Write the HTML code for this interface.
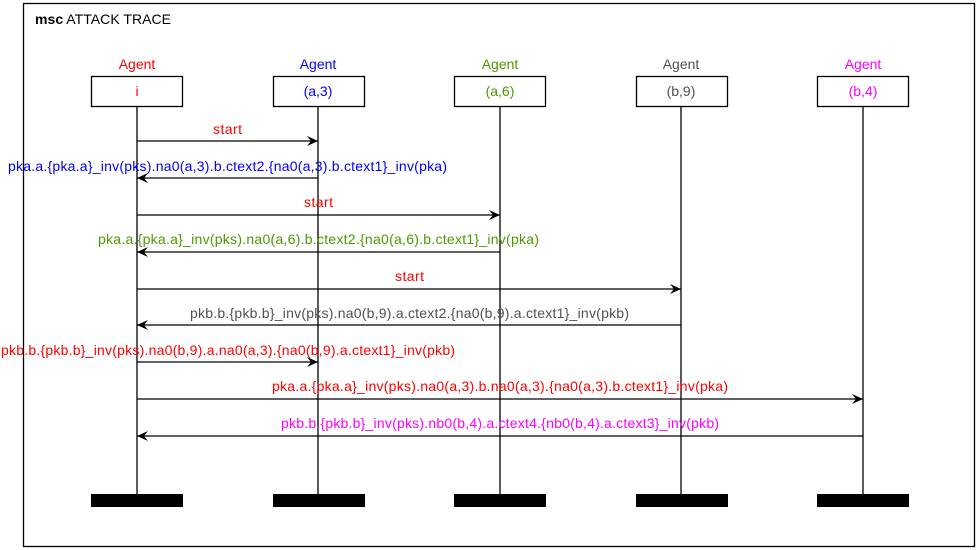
<!DOCTYPE html>
<html><head><style>body{margin:0;background:#fff}svg{display:block}text{font-family:"Liberation Sans",sans-serif;font-size:14px}</style></head><body>
<svg width="979" height="550" viewBox="0 0 979 550" xmlns="http://www.w3.org/2000/svg">
<defs><marker id="a" markerWidth="12" markerHeight="10" refX="11" refY="5" orient="auto" markerUnits="userSpaceOnUse"><path d="M0,0 L11,5 L0,10 L4,5 Z" fill="#000"/></marker></defs>
<rect x="23.5" y="3.5" width="951" height="543" fill="none" stroke="#000" stroke-width="1.3"/>
<text x="35" y="24" textLength="136"><tspan font-weight="bold">msc</tspan> ATTACK TRACE</text>
<g stroke="#000" stroke-width="1.3" fill="#fff">
<line x1="137" y1="107" x2="137" y2="495"/><line x1="318" y1="107" x2="318" y2="495"/><line x1="500" y1="107" x2="500" y2="495"/><line x1="681" y1="107" x2="681" y2="495"/><line x1="863" y1="107" x2="863" y2="495"/>
<rect x="91.5" y="76.5" width="91" height="30"/><rect x="273.5" y="76.5" width="91" height="30"/><rect x="454.5" y="76.5" width="91" height="30"/><rect x="636.5" y="76.5" width="91" height="30"/><rect x="817.5" y="76.5" width="91" height="30"/>
</g>
<g fill="#000"><rect x="91" y="494" width="92" height="13"/><rect x="273" y="494" width="92" height="13"/><rect x="454" y="494" width="92" height="13"/><rect x="636" y="494" width="92" height="13"/><rect x="817" y="494" width="92" height="13"/></g>
<g text-anchor="middle">
<text x="137" y="69" fill="#f00">Agent</text><text x="137" y="96" fill="#f00">i</text>
<text x="318" y="69" fill="#00f">Agent</text><text x="318" y="96" fill="#00f">(a,3)</text>
<text x="500" y="69" fill="#4c9900">Agent</text><text x="500" y="96" fill="#4c9900">(a,6)</text>
<text x="681" y="69" fill="#505050">Agent</text><text x="681" y="96" fill="#505050">(b,9)</text>
<text x="863" y="69" fill="#f0f">Agent</text><text x="863" y="96" fill="#f0f">(b,4)</text>
</g>
<g stroke="#000" stroke-width="1.3" marker-end="url(#a)">
<line x1="137" y1="141" x2="318" y2="141"/>
<line x1="318" y1="178" x2="137" y2="178"/>
<line x1="137" y1="215" x2="500" y2="215"/>
<line x1="500" y1="252" x2="137" y2="252"/>
<line x1="137" y1="289" x2="681" y2="289"/>
<line x1="681" y1="325" x2="137" y2="325"/>
<line x1="137" y1="362" x2="318" y2="362"/>
<line x1="137" y1="399" x2="863" y2="399"/>
<line x1="863" y1="436" x2="137" y2="436"/>
</g>
<text x="213" y="134" fill="#f00" textLength="29">start</text>
<text x="8" y="171" fill="#00f" textLength="439">pka.a.{pka.a}_inv(pks).na0(a,3).b.ctext2.{na0(a,3).b.ctext1}_inv(pka)</text>
<text x="304" y="207" fill="#f00" textLength="29">start</text>
<text x="98" y="244" fill="#4c9900" textLength="441">pka.a.{pka.a}_inv(pks).na0(a,6).b.ctext2.{na0(a,6).b.ctext1}_inv(pka)</text>
<text x="395" y="281" fill="#f00" textLength="29">start</text>
<text x="190" y="318" fill="#505050" textLength="439">pkb.b.{pkb.b}_inv(pks).na0(b,9).a.ctext2.{na0(b,9).a.ctext1}_inv(pkb)</text>
<text x="1" y="355" fill="#f00" textLength="454">pkb.b.{pkb.b}_inv(pks).na0(b,9).a.na0(a,3).{na0(b,9).a.ctext1}_inv(pkb)</text>
<text x="272" y="391" fill="#f00" textLength="456">pka.a.{pka.a}_inv(pks).na0(a,3).b.na0(a,3).{na0(a,3).b.ctext1}_inv(pka)</text>
<text x="281" y="428" fill="#f0f" textLength="438">pkb.b.{pkb.b}_inv(pks).nb0(b,4).a.ctext4.{nb0(b,4).a.ctext3}_inv(pkb)</text>
</svg>
</body></html>
